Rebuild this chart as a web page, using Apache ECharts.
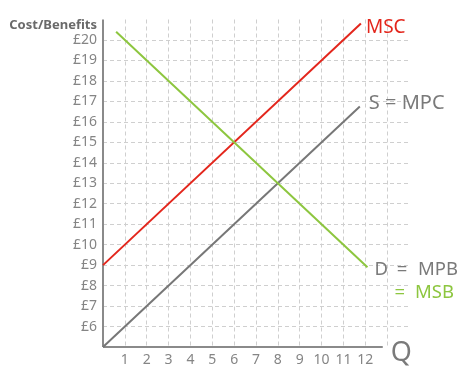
<!DOCTYPE html>
<html>
<head>
<meta charset="utf-8">
<script src="https://cdn.jsdelivr.net/npm/echarts@6/dist/echarts.min.js"></script>
<style>html,body{margin:0;padding:0;background:#fff}#c{width:474px;height:368px}</style>
</head>
<body>
<div id="c"></div>
<script>
// Tick labels
const xTicks = [1,2,3,4,5,6,7,8,9,10,11,12];
const yTicks = ['£6','£7','£8','£9','£10','£11','£12','£13','£14','£15','£16','£17','£18','£19','£20'];
// Curves: [x, y] endpoints
const mscX = [0, 11.8];   const mscY = [9, 20.8];
const mpcX = [0, 11.75];  const mpcY = [5, 16.75];
const msbX = [0.6, 12.1]; const msbY = [20.4, 8.9];
// Axis lines
const xAxisX = [0, 12.8]; const xAxisY = [5, 5];
const yAxisX = [0, 0];    const yAxisY = [5, 21];

const F = '"Noto Sans", "Open Sans", sans-serif';
const GRAY = '#7a7a7a';
const zip = (a, b) => a.map((v, i) => [v, b[i]]);

const chart = echarts.init(document.getElementById('c'));
chart.setOption({
  animation: false,
  grid: { left: 103, right: 65, top: 19.5, bottom: 21 },
  xAxis: {
    type: 'value', min: 0, max: 14, interval: 1,
    axisLine: { show: false }, axisTick: { show: false },
    axisLabel: {
      margin: 6, color: '#858585', fontFamily: F, fontSize: 14,
      formatter: v => (xTicks.indexOf(v) >= 0 ? String(v) : '')
    },
    splitLine: { show: true, showMinLine: false, showMaxLine: false,
      lineStyle: { color: '#cfcfcf', type: [4, 3], width: 1 } }
  },
  yAxis: {
    type: 'value', min: 5, max: 21, interval: 1,
    axisLine: { show: false }, axisTick: { show: false },
    axisLabel: {
      margin: 6, color: '#858585', fontFamily: F, fontSize: 14,
      formatter: v => { const s = '£' + v; return yTicks.indexOf(s) >= 0 ? s : ''; }
    },
    splitLine: { show: true, showMinLine: false, showMaxLine: false,
      lineStyle: { color: '#cfcfcf', type: [4, 3], width: 1 } },
    name: 'Cost/Benefits', nameLocation: 'end', nameGap: -6,
    nameTextStyle: { align: 'right', verticalAlign: 'middle', padding: [0, 6, 0, 0],
      color: '#6a6a6a', fontFamily: F, fontSize: 13, fontWeight: 'bold' }
  },
  series: [
    { type: 'line', data: zip(xAxisX, xAxisY), symbol: 'none', silent: true,
      lineStyle: { color: '#8a8a8a', width: 2 },
      endLabel: { show: true, formatter: 'Q', distance: 8, offset: [0, 6],
        color: GRAY, fontFamily: F, fontSize: 27 } },
    { type: 'line', data: zip(yAxisX, yAxisY), symbol: 'none', silent: true,
      lineStyle: { color: '#8a8a8a', width: 2 } },
    { type: 'line', data: zip(mscX, mscY), symbol: 'none',
      lineStyle: { color: '#e3261c', width: 2 },
      endLabel: { show: true, formatter: 'MSC', distance: 5, offset: [0, 4],
        color: '#e3261c', fontFamily: F, fontSize: 19 } },
    { type: 'line', data: zip(mpcX, mpcY), symbol: 'none',
      lineStyle: { color: '#777777', width: 2 },
      endLabel: { show: true, formatter: 'S = MPC', distance: 9, offset: [0, -3],
        color: GRAY, fontFamily: F, fontSize: 20 } },
    { type: 'line', data: zip(msbX, msbY), symbol: 'none',
      lineStyle: { color: '#8dc63f', width: 2 },
      endLabel: { show: true, distance: 7, offset: [0, 14],
        formatter: '{d|D}{sp| }{e|=}{sp2| }{d|MPB}\n{pad| }{g|=}{sp2| }{g|MSB}',
        rich: {
          d: { color: GRAY, fontFamily: F, fontSize: 18.5, lineHeight: 23 },
          e: { color: GRAY, fontFamily: F, fontSize: 18.5, lineHeight: 23, width: 12, align: 'center' },
          g: { color: '#8dc63f', fontFamily: F, fontSize: 18.5, lineHeight: 23 },
          sp: { width: 8, lineHeight: 23 },
          sp2: { width: 10, lineHeight: 23 },
          pad: { width: 20, lineHeight: 23 }
        } } }
  ]
});
</script>
</body>
</html>
